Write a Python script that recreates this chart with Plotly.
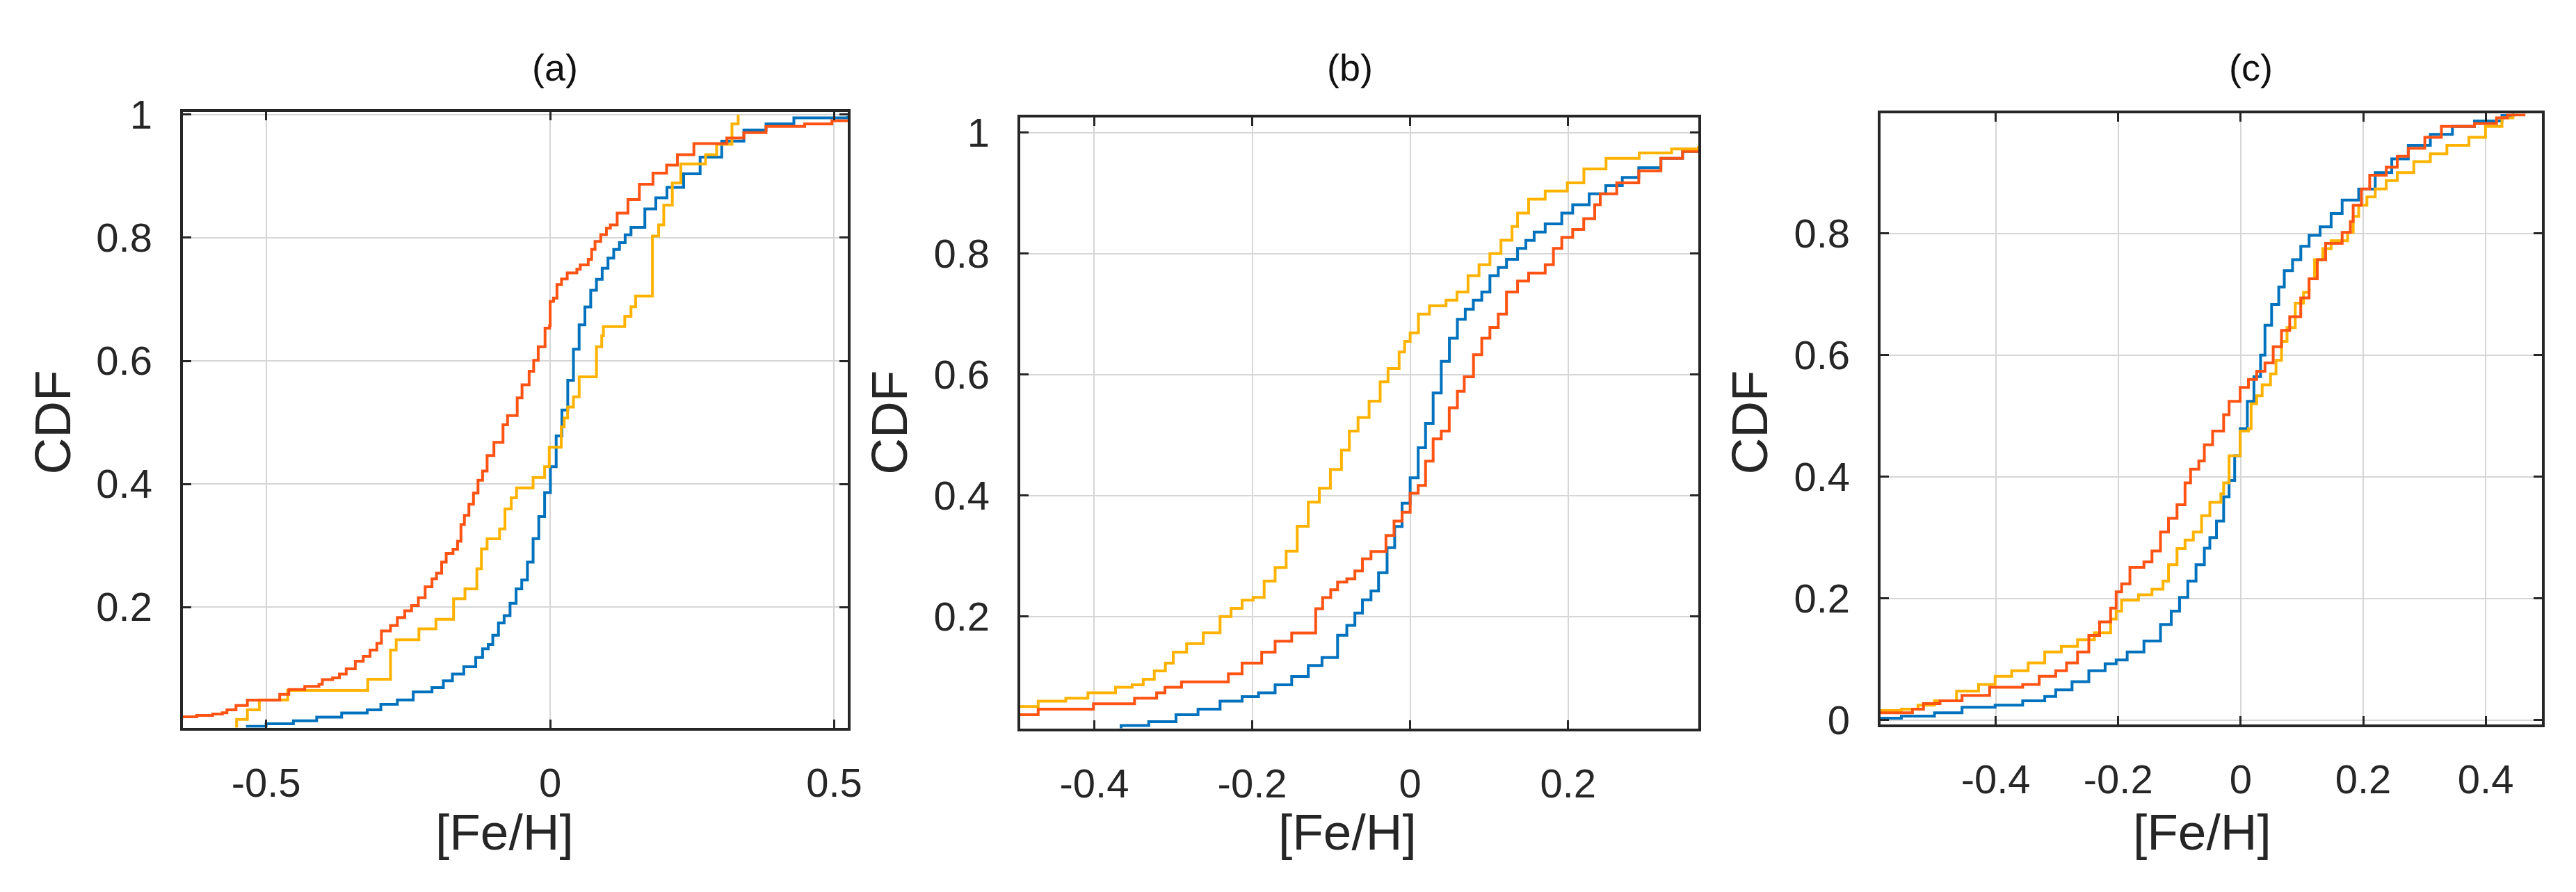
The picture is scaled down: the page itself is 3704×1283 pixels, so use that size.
import plotly.graph_objects as go

# colours (MATLAB-like default order)
BLUE = "#0072BD"
RED = "#FF5314"
YELLOW = "#FFB300"
INK = "#262626"

panel_titles = ["(a)", "(b)", "(c)"]
x_title = "[Fe/H]"
y_title = "CDF"

# ---- panel (a) ----
a_red_x = [-0.647, -0.622, -0.594, -0.577, -0.569, -0.553, -0.533, -0.476, -0.460, -0.432, -0.407, -0.401,
           -0.383, -0.371, -0.359, -0.343, -0.329, -0.317, -0.305, -0.297, -0.281, -0.269, -0.256, -0.244,
           -0.232, -0.220, -0.208, -0.200, -0.191, -0.183, -0.171, -0.163, -0.157, -0.151, -0.143, -0.135,
           -0.127, -0.119, -0.111, -0.099, -0.083, -0.075, -0.058, -0.0495, -0.037, -0.029, -0.021, -0.009,
           -0.001, 0.0, 0.006, 0.012, 0.020, 0.030, 0.047, 0.053, 0.067, 0.073, 0.079, 0.089, 0.099, 0.106,
           0.118, 0.137, 0.157, 0.181, 0.205, 0.224, 0.253, 0.311, 0.341, 0.380, 0.448, 0.496, 0.524]
a_red_y = [0.0215, 0.024, 0.026, 0.028, 0.033, 0.040, 0.0486, 0.058, 0.066, 0.071, 0.0745, 0.082,
           0.085, 0.091, 0.0997, 0.112, 0.120, 0.130, 0.141, 0.161, 0.170, 0.183, 0.194, 0.2025,
           0.215, 0.233, 0.246, 0.255, 0.273, 0.287, 0.294, 0.307, 0.334, 0.349, 0.367, 0.385,
           0.406, 0.421, 0.446, 0.4675, 0.496, 0.511, 0.540, 0.561, 0.583, 0.601, 0.623, 0.653,
           0.657, 0.6965, 0.702, 0.724, 0.733, 0.743, 0.749, 0.756, 0.765, 0.781, 0.794, 0.805, 0.8155, 0.821,
           0.840, 0.862, 0.887, 0.905, 0.918, 0.935, 0.953, 0.962, 0.971, 0.981, 0.985, 0.990, 0.990]

a_blue_x = [-0.561, -0.533, -0.5, -0.452, -0.411, -0.367, -0.322, -0.298, -0.269, -0.241, -0.208, -0.188,
            -0.172, -0.152, -0.131, -0.119, -0.109, -0.101, -0.091, -0.081, -0.0706, -0.060, -0.050, -0.040,
            -0.030, -0.020, -0.0097, 0.0004, 0.0106, 0.0207, 0.031, 0.041, 0.051, 0.0612, 0.0714, 0.0815,
            0.0916, 0.1018, 0.1119, 0.122, 0.132, 0.1423, 0.1667, 0.186, 0.2056, 0.235, 0.264, 0.302,
            0.341, 0.380, 0.429, 0.524]
a_blue_y = [0.0, 0.006, 0.0104, 0.015, 0.021, 0.0277, 0.033, 0.042, 0.049, 0.062, 0.069, 0.080,
            0.091, 0.103, 0.118, 0.132, 0.139, 0.154, 0.174, 0.186, 0.206, 0.2295, 0.244, 0.273,
            0.311, 0.347, 0.386, 0.428, 0.478, 0.520, 0.5685, 0.619, 0.6586, 0.6875, 0.7146, 0.7325,
            0.7506, 0.767, 0.781, 0.792, 0.8047, 0.817, 0.847, 0.865, 0.882, 0.904, 0.931, 0.957,
            0.975, 0.985, 0.995, 0.998]

a_yel_x = [-0.552, -0.552, -0.533, -0.512, -0.462, -0.321, -0.281, -0.271, -0.231, -0.201, -0.170, -0.150,
           -0.129, -0.121, -0.111, -0.089, -0.0795, -0.0685, -0.0592, -0.030, -0.0097, -0.0016, 0.0195,
           0.0247, 0.0308, 0.041, 0.0511, 0.0815, 0.0908, 0.0937, 0.1314, 0.1423, 0.1505, 0.180, 0.191,
           0.200, 0.215, 0.230, 0.2735, 0.293, 0.320, 0.331]
a_yel_y = [0.0, 0.0175, 0.033, 0.049, 0.0645, 0.0825, 0.130, 0.1467, 0.1646, 0.180, 0.2133, 0.2295,
           0.262, 0.2944, 0.3107, 0.327, 0.3593, 0.3774, 0.3936, 0.4106, 0.428, 0.4596, 0.4928,
           0.507, 0.525, 0.5415, 0.574, 0.623, 0.6406, 0.6557, 0.6724, 0.688, 0.7055, 0.8028, 0.821,
           0.853, 0.889, 0.920, 0.935, 0.952, 0.985, 1.0]

# ---- panel (b) ----
b_red_x = [-0.494, -0.471, -0.401, -0.349, -0.321, -0.3105, -0.2895, -0.2302, -0.2128, -0.188, -0.171,
           -0.150, -0.1196, -0.1108, -0.1006, -0.0919, -0.0802, -0.070, -0.0604, -0.0496, -0.0306, -0.0204,
           -0.0102, 0.0, 0.0102, 0.0195, 0.0291, 0.0394, 0.0495, 0.0598, 0.0685, 0.0802,
           0.0907, 0.101, 0.1116, 0.122, 0.136, 0.150, 0.171, 0.1814, 0.192, 0.2058, 0.2198, 0.2337,
           0.2407, 0.2616, 0.2895, 0.3175, 0.345, 0.365]
b_red_y = [0.0376, 0.0467, 0.0557, 0.0647, 0.0737, 0.0828, 0.0918, 0.105, 0.123, 0.141, 0.159,
           0.1726, 0.2128, 0.2312, 0.2441, 0.2569, 0.2624, 0.2753, 0.2954, 0.3075, 0.3339, 0.3578,
           0.3725, 0.4037, 0.4165, 0.4569, 0.4936, 0.5065, 0.545, 0.5725, 0.5964, 0.6328,
           0.66, 0.678, 0.700, 0.7366, 0.7546, 0.768, 0.7817, 0.8087, 0.8267, 0.840, 0.858, 0.881,
           0.899, 0.917, 0.937, 0.9576, 0.969, 0.973]

b_blue_x = [-0.400, -0.366, -0.331, -0.2965, -0.2686, -0.2407, -0.2128, -0.192, -0.171, -0.150, -0.129,
            -0.1116, -0.0919, -0.0802, -0.070, -0.0604, -0.0496, -0.040, -0.0292, -0.0196, -0.0102,
            0.0, 0.0102, 0.0195, 0.0291, 0.0394, 0.0497, 0.0598, 0.0698, 0.080, 0.0907, 0.101,
            0.1116, 0.122, 0.136, 0.1465, 0.157, 0.171, 0.192, 0.2058, 0.2267, 0.2477, 0.2686, 0.2895,
            0.3175, 0.345, 0.365]
b_blue_y = [0.012, 0.0196, 0.026, 0.0376, 0.0467, 0.060, 0.0674, 0.0737, 0.087, 0.1006, 0.1187,
            0.132, 0.1688, 0.1853, 0.2056, 0.2276, 0.2422, 0.2723, 0.3138, 0.3487, 0.3872,
            0.4294, 0.4789, 0.5193, 0.5696, 0.622, 0.66, 0.6915, 0.708, 0.723, 0.7366, 0.7636,
            0.777, 0.7907, 0.8087, 0.822, 0.8357, 0.8493, 0.867, 0.881, 0.899, 0.9125, 0.926, 0.942,
            0.9576, 0.969, 0.975]

b_yel_x = [-0.494, -0.471, -0.436, -0.408, -0.373, -0.352, -0.338, -0.324, -0.310, -0.300, -0.283,
           -0.262, -0.2407, -0.2268, -0.2128, -0.1988, -0.1849, -0.171, -0.157, -0.143, -0.129, -0.115,
           -0.101, -0.087, -0.077, -0.066, -0.052, -0.038, -0.028, -0.014, -0.007, 0.0, 0.0105, 0.0244,
           0.0454, 0.0593, 0.0733, 0.0872, 0.101, 0.115, 0.129, 0.136, 0.150, 0.171, 0.199, 0.220,
           0.248, 0.290, 0.331, 0.365]
b_yel_y = [0.051, 0.060, 0.0647, 0.0737, 0.0828, 0.087, 0.096, 0.110, 0.123, 0.141, 0.155,
           0.173, 0.200, 0.2135, 0.227, 0.2316, 0.2585, 0.281, 0.308, 0.349, 0.389, 0.412,
           0.443, 0.475, 0.5066, 0.529, 0.556, 0.588, 0.610, 0.6375, 0.655, 0.669, 0.700, 0.714,
           0.723, 0.7366, 0.7636, 0.7817, 0.800, 0.8222, 0.845, 0.867, 0.890, 0.9035, 0.917, 0.940,
           0.9576, 0.9666, 0.973, 0.978]

# ---- panel (c) ----
c_red_x = [-0.5885, -0.536, -0.518, -0.491, -0.455, -0.410, -0.356, -0.329, -0.302, -0.2844, -0.2664,
           -0.248, -0.2304, -0.2124, -0.2034, -0.1944, -0.1809, -0.158, -0.1449, -0.131, -0.118, -0.104,
           -0.0909, -0.0819, -0.0684, -0.0594, -0.0459, -0.0279, -0.019, -0.0009, 0.0126, 0.026, 0.0396,
           0.053, 0.0666, 0.080, 0.098, 0.1116, 0.125, 0.1386, 0.1656, 0.179, 0.1836, 0.197, 0.2106,
           0.2376, 0.2556, 0.2736, 0.3006, 0.3276, 0.3816, 0.4176, 0.4355, 0.4625]
c_red_y = [0.012, 0.018, 0.027, 0.0316, 0.0406, 0.054, 0.0585, 0.072, 0.081, 0.094, 0.112,
           0.139, 0.1615, 0.184, 0.2108, 0.224, 0.251, 0.26, 0.278, 0.309, 0.3316, 0.354,
           0.390, 0.4124, 0.426, 0.4526, 0.475, 0.502, 0.524, 0.5468, 0.56, 0.5733, 0.587,
           0.6138, 0.6405, 0.663, 0.694, 0.7255, 0.757, 0.7837, 0.8016, 0.8195, 0.8464, 0.8733, 0.8957,
           0.909, 0.927, 0.940, 0.958, 0.976, 0.9806, 0.990, 0.995, 0.998]

c_blue_x = [-0.5885, -0.554, -0.5, -0.455, -0.401, -0.356, -0.320, -0.302, -0.2754, -0.248, -0.2214,
            -0.2034, -0.1854, -0.158, -0.131, -0.1134, -0.0999, -0.0864, -0.073, -0.0594, -0.0504,
            -0.0396, -0.0279, -0.019, -0.0099, -0.0009, 0.0108, 0.0216, 0.0324, 0.0396, 0.0504, 0.0621,
            0.0711, 0.0846, 0.0981, 0.1116, 0.1296, 0.1476, 0.1656, 0.1926, 0.2196, 0.2466, 0.2736,
            0.3096, 0.3456, 0.3816, 0.4265, 0.4445]
c_blue_y = [0.003, 0.0065, 0.012, 0.021, 0.0245, 0.0316, 0.0388, 0.0495, 0.063, 0.081, 0.0925,
            0.0988, 0.112, 0.130, 0.157, 0.179, 0.2017, 0.2286, 0.2555, 0.2824, 0.300,
            0.327, 0.367, 0.394, 0.4346, 0.479, 0.524, 0.5645, 0.600, 0.649, 0.683, 0.712,
            0.739, 0.757, 0.779, 0.797, 0.811, 0.833, 0.855, 0.873, 0.900, 0.9226, 0.945,
            0.963, 0.976, 0.985, 0.994, 0.9985]

c_yel_x = [-0.5885, -0.554, -0.527, -0.5, -0.464, -0.428, -0.401, -0.374, -0.347, -0.320, -0.293,
           -0.2664, -0.239, -0.2124, -0.2034, -0.1944, -0.167, -0.1449, -0.1269, -0.1179, -0.104,
           -0.0909, -0.0774, -0.0639, -0.0504, -0.0324, -0.0279, -0.019, -0.0009, 0.0126, 0.017, 0.026,
           0.035, 0.0486, 0.0576, 0.0666, 0.0756, 0.089, 0.1026, 0.1116, 0.1206, 0.134, 0.1476, 0.1746,
           0.1836, 0.1926, 0.206, 0.2196, 0.2376, 0.2556, 0.2826, 0.3096, 0.3366, 0.3726, 0.3996,
           0.4265, 0.4445]
c_yel_y = [0.0155, 0.018, 0.0245, 0.0316, 0.0477, 0.0585, 0.072, 0.081, 0.094, 0.112, 0.121,
           0.132, 0.1435, 0.166, 0.179, 0.197, 0.206, 0.215, 0.2286, 0.2555, 0.282,
           0.296, 0.309, 0.336, 0.358, 0.372, 0.39, 0.4346, 0.475, 0.479, 0.52, 0.533,
           0.551, 0.569, 0.5915, 0.6226, 0.645, 0.6855, 0.703, 0.7255, 0.757, 0.775, 0.788, 0.8016,
           0.828, 0.8464, 0.860, 0.8733, 0.887, 0.900, 0.918, 0.931, 0.945, 0.958, 0.976,
           0.990, 0.997]

# axis ranges and ticks
x_ranges = [[-0.647, 0.524], [-0.494, 0.365], [-0.5885, 0.492]]
y_ranges = [[0.004, 1.005], [0.015, 1.025], [-0.007, 0.997]]
x_tickvals = [[-0.5, 0, 0.5], [-0.4, -0.2, 0, 0.2], [-0.4, -0.2, 0, 0.2, 0.4]]
x_ticktext = [["-0.5", "0", "0.5"], ["-0.4", "-0.2", "0", "0.2"], ["-0.4", "-0.2", "0", "0.2", "0.4"]]
y_tickvals = [0, 0.2, 0.4, 0.6, 0.8, 1]
y_ticktext = ["0", "0.2", "0.4", "0.6", "0.8", "1"]

panels = [
    [(a_blue_x, a_blue_y, BLUE), (a_yel_x, a_yel_y, YELLOW), (a_red_x, a_red_y, RED)],
    [(b_blue_x, b_blue_y, BLUE), (b_red_x, b_red_y, RED), (b_yel_x, b_yel_y, YELLOW)],
    [(c_blue_x, c_blue_y, BLUE), (c_yel_x, c_yel_y, YELLOW), (c_red_x, c_red_y, RED)],
]

W, H = 3704, 1283
# plot boxes in pixels: left, right, top, bottom
boxes = [(256, 1218, 130, 1055), (1467, 2448, 139, 1056), (2711, 3668, 133, 1050)]
title_x = [795, 1944, 3247]
xlab_x = [722, 1941, 3177]
ylab_x = [68, 1278, 2522]

fig = go.Figure()
axis_style = dict(
    showline=True, linecolor=INK, linewidth=4, mirror="ticks",
    ticks="inside", ticklen=12, tickwidth=3, tickcolor=INK,
    showgrid=True, gridcolor="#D6D6D6", gridwidth=2, zeroline=False,
    tickfont=dict(family="Liberation Sans, Arial", size=58, color=INK),
)

annotations = []
for i, series in enumerate(panels):
    n = "" if i == 0 else str(i + 1)
    for xs, ys, col in series:
        fig.add_trace(go.Scatter(
            x=xs, y=ys, mode="lines", line=dict(color=col, width=4, shape="hv"),
            xaxis="x" + n, yaxis="y" + n, showlegend=False, hoverinfo="skip",
        ))
    l, r, t, b = boxes[i]
    fig.layout["xaxis" + n] = dict(
        axis_style, domain=[l / W, r / W], range=x_ranges[i], anchor="y" + n,
        tickvals=x_tickvals[i], ticktext=x_ticktext[i], ticklabelstandoff=26,
    )
    fig.layout["yaxis" + n] = dict(
        axis_style, domain=[1 - b / H, 1 - t / H], range=y_ranges[i], anchor="x" + n,
        tickvals=y_tickvals, ticktext=y_ticktext, ticklabelstandoff=28,
    )
    annotations.append(dict(text=panel_titles[i], x=title_x[i] / W, y=1 - 64 / H, xref="paper", yref="paper",
                            showarrow=False, xanchor="center", yanchor="middle",
                            font=dict(family="Liberation Sans, Arial", size=54, color="#111111")))
    annotations.append(dict(text=x_title, x=xlab_x[i] / W, y=1 - 1212 / H, xref="paper", yref="paper",
                            showarrow=False, xanchor="center", yanchor="middle",
                            font=dict(family="Liberation Sans, Arial", size=73, color=INK)))
    annotations.append(dict(text=y_title, x=ylab_x[i] / W, y=1 - 597 / H, xref="paper", yref="paper",
                            showarrow=False, xanchor="center", yanchor="middle", textangle=-90,
                            font=dict(family="Liberation Sans, Arial", size=73, color=INK)))

fig.update_layout(
    width=W, height=H, margin=dict(l=0, r=0, t=0, b=0),
    paper_bgcolor="white", plot_bgcolor="white",
    annotations=annotations,
)

fig.write_html("out.html")
